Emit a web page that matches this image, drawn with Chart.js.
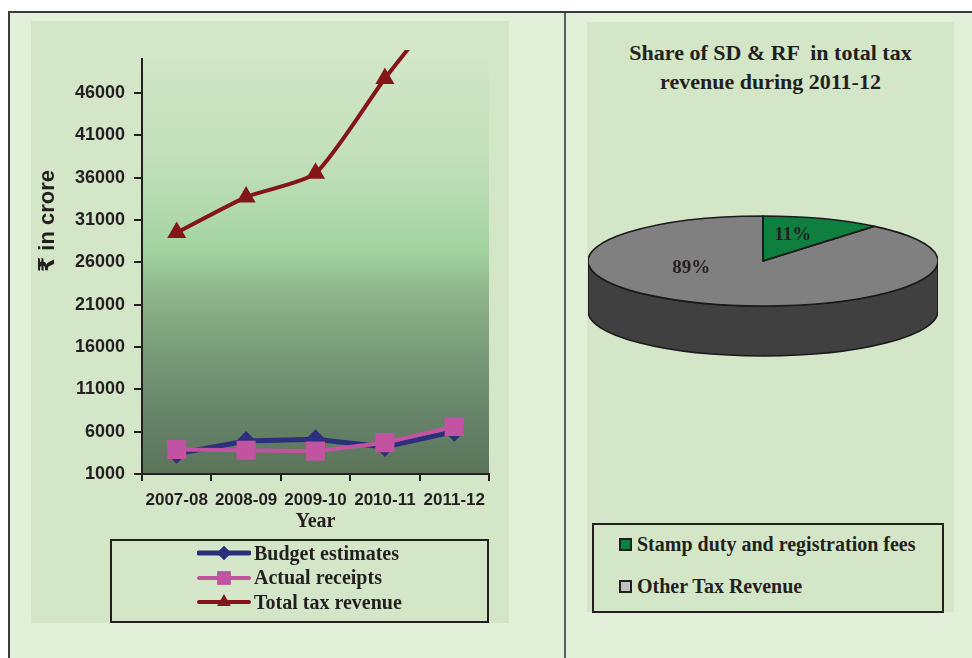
<!DOCTYPE html>
<html>
<head>
<meta charset="utf-8">
<script src="https://cdn.jsdelivr.net/npm/chart.js@4.4.1/dist/chart.umd.min.js"></script>
<style>
html,body{margin:0;padding:0;background:#fff;}
body{width:972px;height:658px;position:relative;overflow:hidden;font-family:'Liberation Serif','Times New Roman',serif;color:#231f20;}
#frame{position:absolute;left:8px;top:11px;width:990px;height:680px;background:#e2efd9;border-left:2px solid #3c3c3c;border-top:2px solid #3c3c3c;}
#divider{position:absolute;left:564px;top:13px;width:2px;height:660px;background:#5e5e5e;}
.panel{position:absolute;background:#d3e7c8;}
#leftPanel{left:31px;top:21px;width:478px;height:602px;}
#rightPanel{left:587px;top:22px;width:367px;height:590px;}
#lineWrap{position:absolute;left:31px;top:21px;width:478px;height:514px;}
#pieWrap{position:absolute;left:588px;top:86px;width:350px;height:350px;}
.legend{position:absolute;box-sizing:border-box;border:2px solid #231f20;font:bold 20px 'Liberation Serif','Times New Roman',serif;color:#231f20;}
#legendL{left:110px;top:539px;width:379px;height:84px;}
#legendL .row{height:24.5px;display:flex;align-items:center;padding-left:85px;}
#legendL canvas{width:54px;height:22px;margin-right:3px;}
#legendR{left:592px;top:523px;width:352px;height:90px;}
#legendR .row{height:42px;display:flex;align-items:center;padding-left:25px;}
#legendR .row:first-child{margin-top:-2px;}
#legendR .sw{width:13px;height:13px;box-sizing:border-box;border:2px solid #231f20;margin-right:5px;}
#pieTitle{position:absolute;left:587px;top:39px;width:367px;text-align:center;font:bold 22px 'Liberation Serif','Times New Roman',serif;line-height:28.7px;white-space:pre;color:#231f20;}
</style>
</head>
<body>
<div id="frame"></div>
<div id="divider"></div>
<div class="panel" id="leftPanel"></div>
<div class="panel" id="rightPanel"></div>
<div id="lineWrap"><canvas id="line" width="478" height="514"></canvas></div>
<div class="legend" id="legendL"></div>
<div id="pieTitle"></div>
<div id="pieWrap"><canvas id="pie" width="350" height="350"></canvas></div>
<div class="legend" id="legendR"></div>
<script>
// values (₹ crore)
const YEARS = ['2007-08', '2008-09', '2009-10', '2010-11', '2011-12'];
const BUDGET = [3400, 4900, 5100, 4200, 6000];
const ACTUAL = [3900, 3800, 3700, 4700, 6600];
const TOTAL = [29500, 33700, 36500, 47700, 58000];
const Y_TICKS = [1000, 6000, 11000, 16000, 21000, 26000, 31000, 36000, 41000, 46000];
const SERIES = ['Budget estimates', 'Actual receipts', 'Total tax revenue'];

const PIE_TITLE = ['Share of SD & RF  in total tax', 'revenue during 2011-12'];
const SHARE_LABELS = ['Stamp duty and registration fees', 'Other Tax Revenue'];
const SHARE = [11, 89];

const DARK = '#231f20';
const SANS = "'Liberation Sans', Arial, 'DejaVu Sans', sans-serif";
const SERIF = "'Liberation Serif', 'Times New Roman', serif";

// gradient fill behind the plot
const plotBg = {
  id: 'plotBg',
  beforeDraw(chart, args, o){
    const {ctx:g, chartArea:a} = chart;
    const gr = g.createLinearGradient(0, a.top, 0, a.bottom);
    o.stops.forEach(([p, c]) => gr.addColorStop(p, c));
    g.save();
    g.fillStyle = gr;
    g.fillRect(a.left, a.top, a.width, a.height);
    g.restore();
  }
};

// rotated y title, sits above the axis centre like the original
const yTitle = {
  id: 'yTitle',
  afterDraw(chart, args, o){
    const g = chart.ctx;
    g.save();
    g.translate(o.x, o.y);
    g.rotate(-Math.PI/2);
    g.font = o.font;
    g.fillStyle = o.color;
    g.textAlign = 'center';
    g.textBaseline = 'middle';
    g.fillText(o.text, 0, 0);
    g.restore();
  }
};

const lineChart = new Chart(document.getElementById('line'), {
  type: 'line',
  data: {
    labels: YEARS,
    datasets: [
      {label: SERIES[0], data: BUDGET, borderColor: '#2c2f7e', backgroundColor: '#2c2f7e',
       borderWidth: 5, pointStyle: 'rectRot', pointRadius: 10, pointBorderWidth: 0, order: 1},
      {label: SERIES[1], data: ACTUAL, borderColor: '#c153a0', backgroundColor: '#c153a0',
       borderWidth: 4, pointStyle: 'rect', pointRadius: 13.5, pointBorderWidth: 0, order: 0},
      {label: SERIES[2], data: TOTAL, borderColor: '#841619', backgroundColor: '#841619',
       borderWidth: 4, pointStyle: 'triangle', pointRadius: 11, pointBorderWidth: 0, order: 2,
       tension: 0.2, clip: {left: 5, top: 9, right: 5, bottom: 5}}
    ]
  },
  options: {
    responsive: false, animation: false,
    layout: {padding: {left: 0, right: 20, top: 38, bottom: 0}},
    scales: {
      x: {
        offset: true,
        afterFit(s){ s.height = 61; },
        grid: {display: true, offset: true, drawOnChartArea: false, drawTicks: true, tickLength: 7, color: DARK, lineWidth: 2},
        border: {display: true, color: DARK, width: 2},
        ticks: {color: DARK, font: {family: SANS, size: 17, weight: 'bold'}, padding: 9.5, maxRotation: 0, autoSkip: false},
        title: {display: true, text: 'Year', color: DARK, font: {family: SERIF, size: 20, weight: 'bold'}, padding: {top: 0, bottom: 1}}
      },
      y: {
        min: 1000, max: 50000,
        afterFit(s){ s.width = 111; },
        afterBuildTicks(s){ s.ticks = Y_TICKS.map(v => ({value: v})); },
        grid: {display: true, drawOnChartArea: false, drawTicks: true, tickLength: 8, color: DARK, lineWidth: 2},
        border: {display: true, color: DARK, width: 2},
        ticks: {color: DARK, font: {family: SANS, size: 18, weight: 'bold'}, padding: 9, callback: v => String(v)}
      }
    },
    plugins: {
      legend: {display: false},
      tooltip: {enabled: false},
      plotBg: {stops: [[0, '#d1e6c7'], [0.22, '#c4e0bc'], [0.34, '#b5dab1'], [0.46, '#a3d3a1'],
                       [0.56, '#8fb68c'], [0.70, '#7a9c7a'], [0.86, '#67846a'], [1, '#597459']]},
      yTitle: {text: '₹ in crore', x: 17, y: 200, color: DARK, font: 'bold 22px ' + SANS}
    }
  },
  plugins: [plotBg, yTitle]
});

// legend for the line chart, one line sample + marker per series
function drawMarker(g, style, x, y, r){
  g.beginPath();
  if (style === 'rectRot'){
    g.moveTo(x, y - r); g.lineTo(x + r, y); g.lineTo(x, y + r); g.lineTo(x - r, y);
  } else if (style === 'rect'){
    const s = r * Math.SQRT1_2;
    g.rect(x - s, y - s, 2*s, 2*s);
  } else {
    const h = r * Math.sin(Math.PI/3);
    g.moveTo(x, y - r); g.lineTo(x + h, y + r/2); g.lineTo(x - h, y + r/2);
  }
  g.closePath();
  g.fill();
}
const legL = document.getElementById('legendL');
lineChart.data.datasets.forEach(ds => {
  const row = document.createElement('div');
  row.className = 'row';
  const c = document.createElement('canvas');
  c.width = 54; c.height = 22;
  const g = c.getContext('2d');
  g.strokeStyle = ds.borderColor; g.fillStyle = ds.borderColor;
  g.lineWidth = ds.borderWidth; g.lineCap = 'round';
  g.beginPath(); g.moveTo(2, 11); g.lineTo(52, 11); g.stroke();
  drawMarker(g, ds.pointStyle, 27, 11, ds.pointRadius * 0.72);
  const t = document.createElement('span');
  t.textContent = ds.label;
  row.appendChild(c); row.appendChild(t);
  legL.appendChild(row);
});

// pie drawn flat by Chart.js, squashed into an ellipse with a side wall
const pie3d = {
  id: 'pie3d',
  beforeDatasetsDraw(chart, args, o){
    const g = chart.ctx;
    const arcs = chart.getDatasetMeta(0).data;
    const {x, y, outerRadius: r} = arcs[0];
    const ry = r * o.squash;
    arcs.forEach((arc, i) => {
      for (let n = -1; n <= 1; n++){
        const a0 = Math.max(arc.startAngle + n*2*Math.PI, 0);
        const a1 = Math.min(arc.endAngle + n*2*Math.PI, Math.PI);
        if (a1 <= a0) continue;
        g.save();
        g.beginPath();
        g.ellipse(x, y + o.depth, r, ry, 0, a0, a1, false);
        g.ellipse(x, y, r, ry, 0, a1, a0, true);
        g.closePath();
        g.fillStyle = o.sideColors[i];
        g.fill();
        g.lineWidth = o.lineWidth; g.strokeStyle = o.lineColor;
        g.stroke();
        g.restore();
      }
    });
    g.save();
    g.translate(x, y); g.scale(1, o.squash); g.translate(-x, -y);
  },
  afterDatasetsDraw(chart, args, o){
    const g = chart.ctx;
    g.restore();
    const arcs = chart.getDatasetMeta(0).data;
    const {x, y, outerRadius: r} = arcs[0];
    const ry = r * o.squash;
    const vals = chart.data.datasets[0].data;
    const total = vals.reduce((a, b) => a + b, 0);
    g.save();
    g.lineWidth = o.lineWidth; g.strokeStyle = o.lineColor; g.lineJoin = 'round';
    arcs.forEach(arc => {
      g.beginPath();
      g.moveTo(x, y);
      g.ellipse(x, y, r, ry, 0, arc.startAngle, arc.endAngle, false);
      g.closePath();
      g.stroke();
    });
    g.font = o.labelFont; g.fillStyle = o.labelColor;
    g.textAlign = 'center'; g.textBaseline = 'middle';
    vals.forEach((v, i) => {
      const [fx, fy] = o.labelAt[i];
      g.fillText(Math.round(v / total * 100) + '%', x + fx*r, y + fy*ry);
    });
    g.restore();
  }
};

new Chart(document.getElementById('pie'), {
  type: 'pie',
  data: {
    labels: SHARE_LABELS,
    datasets: [{data: SHARE, backgroundColor: ['#0e7f3e', '#808080'], borderWidth: 0, clip: false}]
  },
  options: {
    responsive: false, animation: false,
    layout: {padding: 0},
    plugins: {
      legend: {display: false},
      tooltip: {enabled: false},
      pie3d: {squash: 0.257, depth: 50, sideColors: ['#07451f', '#404040'], lineColor: '#1a1a1a', lineWidth: 1.6,
              labelFont: 'bold 19px ' + SERIF, labelColor: '#231f20', labelAt: [[0.17, -0.58], [-0.41, 0.16]]}
    }
  },
  plugins: [pie3d]
});

document.getElementById('pieTitle').textContent = PIE_TITLE.join('\n');

const legR = document.getElementById('legendR');
const LEG_SW = ['#0e7f3e', '#c0c0c0'];
SHARE_LABELS.forEach((lab, i) => {
  const row = document.createElement('div');
  row.className = 'row';
  const sw = document.createElement('div');
  sw.className = 'sw';
  sw.style.background = LEG_SW[i];
  const t = document.createElement('span');
  t.textContent = lab;
  row.appendChild(sw); row.appendChild(t);
  legR.appendChild(row);
});
</script>
</body>
</html>
